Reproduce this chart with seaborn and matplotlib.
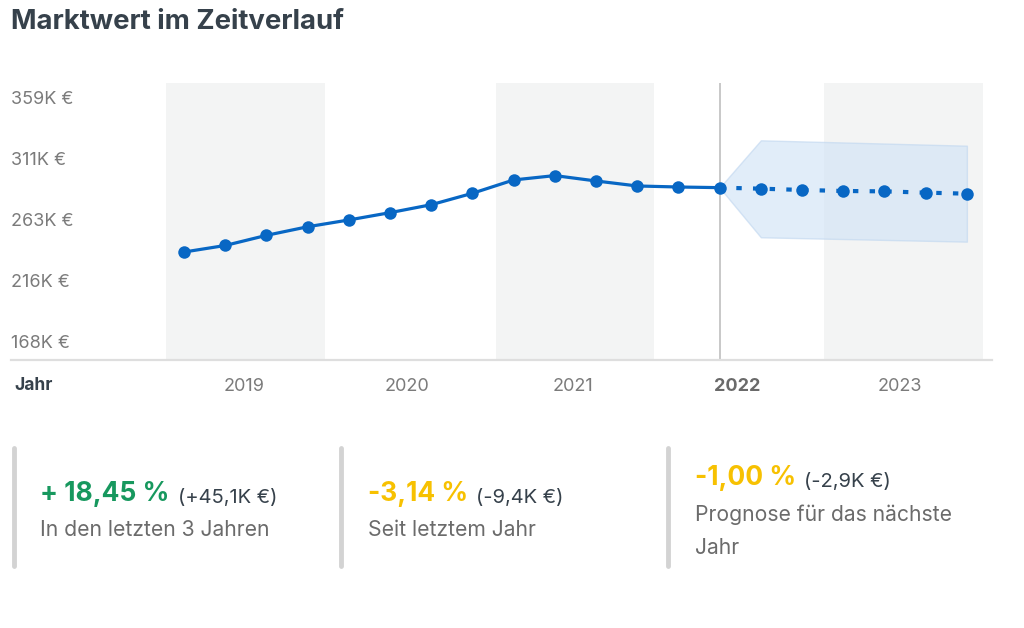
import numpy as np
import pandas as pd
import matplotlib
matplotlib.use("Agg")
import matplotlib.pyplot as plt
import matplotlib.transforms as mtransforms
from matplotlib.lines import Line2D
import seaborn as sns

# ---------------- data ----------------
title = "Marktwert im Zeitverlauf"
hist_values = [239.7, 244.8, 252.7, 259.4, 264.7, 270.4, 276.6, 285.5,
               295.9, 299.3, 295.1, 291.2, 290.4, 289.9]          # K €
forecast_values = [289.1, 288.1, 287.3, 287.0, 286.0, 285.2]      # K €
band_x = [13, 14, 19]
band_upper = [289.9, 326.8, 322.6]
band_lower = [289.9, 251.2, 247.8]
year_labels = ["2019", "2020", "2021", "2022", "2023"]
year_pos = [1.45, 5.42, 9.45, 13.42, 17.38]
shade_spans = [(-0.44, 3.42), (7.57, 11.41), (15.53, 19.39)]
ytick_values = [168, 215.75, 263.5, 311.25, 359]
ytick_labels = ["168K €", "216K €", "263K €", "311K €", "359K €"]
stat_values = ["+ 18,45 %", "-3,14 %", "-1,00 %"]
stat_amounts = ["(+45,1K €)", "(-9,4K €)", "(-2,9K €)"]
stat_captions = [["In den letzten 3 Jahren"], ["Seit letztem Jahr"],
                 ["Prognose für das nächste", "Jahr"]]

# ---------------- style ----------------
sns.set_theme(style="white")
plt.rcParams["font.family"] = ["Inter", "DejaVu Sans"]

W, H = 1024, 628
fig = plt.figure(figsize=(W / 100, H / 100), dpi=100)
fig.patch.set_facecolor("white")

def fx(px):
    return px / W

def fy(py):
    return 1 - py / H

BLUE = "#0867c4"
DARK = "#36414b"
GREY = "#7b7b7b"

# axes: x 11..992 px, y 83..360 px
ax = fig.add_axes([fx(11), fy(360), fx(992) - fx(11), fy(83) - fy(360)])
ax.set_facecolor("white")

for a, b in shade_spans:
    ax.axvspan(a, b, color="#f3f4f4", zorder=0, lw=0)

ax.fill_between(band_x, band_lower, band_upper, color="#d2e4f7", alpha=0.65,
                lw=1, edgecolor="#c2d8f0", zorder=1)

ax.axvline(len(hist_values) - 1, color="#c4c4c4", lw=1.3, zorder=1.5)

df_hist = pd.DataFrame({"x": np.arange(len(hist_values)), "v": hist_values})
sns.lineplot(data=df_hist, x="x", y="v", ax=ax, color=BLUE, lw=2.3,
             marker="o", markersize=9, markeredgewidth=0, zorder=3)

fc_x = np.arange(len(hist_values) - 1, len(hist_values) + len(forecast_values))
fc_y = [hist_values[-1]] + forecast_values
df_fc = pd.DataFrame({"x": fc_x, "v": fc_y})
sns.lineplot(data=df_fc, x="x", y="v", ax=ax, color=BLUE, lw=3.0,
             linestyle=(0, (1.3, 2.7)), zorder=3)
ax.plot(fc_x[1:], forecast_values, "o", color=BLUE, markersize=9,
        markeredgewidth=0, zorder=4)

ax.set_xlim(-4.2, 19.61)
ax.set_ylim(155.5, 371.5)

for s in ["top", "right", "left"]:
    ax.spines[s].set_visible(False)
ax.spines["bottom"].set_color("#dedede")
ax.spines["bottom"].set_linewidth(1.6)

ax.set_yticks([])
trans = mtransforms.blended_transform_factory(ax.transAxes, ax.transData)
for v, lab in zip(ytick_values, ytick_labels):
    ax.text(0.0, v, lab, transform=trans, ha="left", va="center",
            fontsize=13, color=GREY)

ax.set_xticks(year_pos)
ax.set_xticklabels(year_labels)
ax.tick_params(axis="x", length=0, pad=13, labelsize=13, labelcolor=GREY)
for t in ax.get_xticklabels():
    if t.get_text() == "2022":
        t.set_fontweight("bold")
        t.set_color("#6a6a6a")
ax.set_xlabel("")
ax.set_ylabel("")

fig.text(fx(14), fy(386), "Jahr", ha="left", va="center", fontsize=12.5,
         fontweight="bold", color=DARK)

fig.text(fx(11), fy(29), title, ha="left", va="baseline", fontsize=19.8,
         fontweight="bold", color=DARK)

# ---------------- stat cards ----------------
card_x = [14, 341, 668]
text_x = [40, 368, 695]
value_base = [501, 501, 485]
caption_base = [[536], [536], [521, 554]]
value_colors = ["#17985e", "#f7c101", "#f7c101"]
for i in range(3):
    fig.add_artist(Line2D([fx(card_x[i]), fx(card_x[i])], [fy(448), fy(566)],
                          color="#d3d3d3", lw=3.5, solid_capstyle="round"))
    t = fig.text(fx(text_x[i]), fy(value_base[i]), stat_values[i], ha="left",
                 va="baseline", fontsize=19, fontweight="bold",
                 color=value_colors[i])
    ax.annotate(stat_amounts[i], xy=(1, 0), xycoords=t,
                xytext=(6, 0), textcoords="offset points", ha="left",
                va="bottom", fontsize=14.5, color=DARK, annotation_clip=False)
    for line, yb in zip(stat_captions[i], caption_base[i]):
        fig.text(fx(text_x[i]), fy(yb), line, ha="left", va="baseline",
                 fontsize=15.2, color="#6b6b6b")

fig.savefig("out.png", dpi=100, facecolor="white")
